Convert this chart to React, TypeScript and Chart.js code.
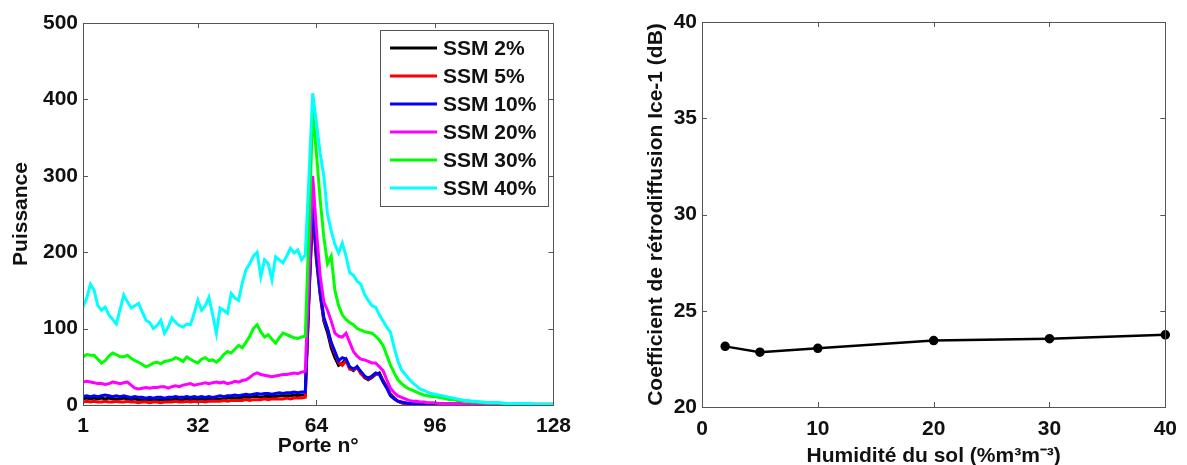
import { useEffect, useRef } from 'react';
import { Chart, registerables } from 'chart.js';

Chart.register(...registerables);

const FONT = "'Liberation Sans', Arial, Helvetica, sans-serif";

// ---------- Left chart data ----------
const gates = Array.from({ length: 128 }, (_, i) => i + 1);
const seriesLabels = ['SSM 2%', 'SSM 5%', 'SSM 10%', 'SSM 20%', 'SSM 30%', 'SSM 40%'];
const seriesColors = ['#000000', '#ff0000', '#0000ff', '#ff00ff', '#00ff00', '#00ffff'];

const ssm2 = [
  8, 9, 8, 9, 8, 9, 8, 9, 8, 8,
  8, 9, 8, 7, 8, 7, 7, 7, 7, 6,
  7, 7, 6, 7, 7, 8, 7, 7, 8, 7,
  8, 7, 8, 7, 8, 7, 8, 8, 8, 9,
  9, 9, 9, 10, 10, 10, 11, 11, 10, 11,
  11, 11, 11, 12, 12, 12, 12, 13, 12, 13,
  13, 140, 255, 190, 145, 110, 95, 75, 62, 52,
  55, 60, 48, 45, 50, 42, 36, 33, 36, 40,
  42, 32, 24, 14, 9, 5, 3, 2, 2, 1,
  1, 1, 1, 1, 1, 1, 1, 1, 1, 1,
  0, 0, 0, 0, 0, 0, 0, 0, 0, 0,
  0, 0, 0, 0, 0, 0, 0, 0, 0, 0,
  0, 0, 0, 0, 0, 0, 0, 0,
];
const ssm5 = [
  4, 5, 4, 5, 4, 4, 5, 4, 4, 5,
  4, 4, 5, 4, 4, 3, 4, 4, 3, 4,
  4, 3, 4, 4, 4, 5, 4, 4, 5, 4,
  5, 4, 5, 4, 5, 5, 5, 5, 6, 5,
  6, 6, 6, 6, 7, 6, 7, 7, 7, 8,
  7, 8, 8, 8, 8, 9, 8, 9, 9, 9,
  10, 145, 260, 195, 148, 112, 100, 80, 68, 56,
  52, 58, 47, 46, 49, 41, 37, 34, 37, 41,
  40, 31, 23, 13, 8, 5, 3, 2, 2, 1,
  1, 1, 1, 1, 1, 1, 1, 1, 1, 1,
  0, 0, 0, 0, 0, 0, 0, 0, 0, 0,
  0, 0, 0, 0, 0, 0, 0, 0, 0, 0,
  0, 0, 0, 0, 0, 0, 0, 0,
];
const ssm10 = [
  11, 12, 11, 12, 11, 12, 13, 12, 11, 12,
  11, 12, 11, 10, 11, 10, 10, 9, 10, 9,
  10, 10, 9, 10, 10, 11, 10, 10, 11, 10,
  11, 10, 11, 10, 11, 10, 11, 12, 11, 12,
  12, 13, 12, 13, 14, 13, 14, 15, 14, 15,
  15, 14, 15, 16, 15, 16, 16, 17, 16, 17,
  17, 150, 270, 200, 150, 115, 100, 82, 70, 58,
  62, 60, 50, 47, 50, 44, 38, 35, 38, 42,
  40, 30, 22, 12, 8, 5, 4, 3, 2, 2,
  1, 1, 1, 1, 1, 1, 1, 1, 1, 1,
  1, 1, 1, 1, 0, 0, 0, 0, 0, 0,
  0, 0, 0, 0, 0, 0, 0, 0, 0, 0,
  0, 0, 0, 0, 0, 0, 0, 0,
];
const ssm20 = [
  30, 31, 30, 29, 28, 28, 27, 28, 30, 29,
  28, 29, 30, 26, 22, 21, 22, 23, 22, 23,
  23, 24, 24, 22, 24, 25, 24, 26, 27, 28,
  26, 27, 28, 29, 28, 29, 30, 29, 30, 28,
  29, 31, 30, 32, 33, 36, 40, 42, 40, 39,
  38, 37, 38, 39, 40, 40, 41, 42, 41, 43,
  44, 170, 300, 230, 170, 135, 124, 110, 94, 90,
  89, 94, 82, 70, 64, 60, 59, 57, 55, 55,
  50, 45, 33, 22, 16, 12, 10, 8, 6, 5,
  5, 4, 4, 3, 3, 3, 2, 2, 2, 2,
  2, 2, 2, 1, 1, 1, 1, 1, 1, 1,
  1, 1, 1, 1, 1, 1, 1, 1, 1, 1,
  1, 1, 1, 1, 1, 1, 1, 1,
];
const ssm30 = [
  63, 66, 65, 65, 60, 55, 58, 64, 68, 66,
  63, 63, 65, 61, 58, 56, 53, 50, 52, 55,
  56, 54, 57, 58, 59, 62, 60, 57, 63, 60,
  57, 55, 60, 62, 58, 59, 56, 60, 66, 70,
  68, 73, 78, 75, 82, 90, 100, 105, 96, 89,
  92, 86, 81, 88, 94, 92, 90, 88, 87, 89,
  90, 230, 385, 330, 270, 220, 185, 195, 150, 130,
  118, 112, 108, 105, 100, 98, 96, 95, 94, 90,
  85, 78, 65, 52, 42, 33, 28, 24, 21, 19,
  17, 15, 13, 12, 11, 11, 10, 9, 8, 7,
  7, 6, 6, 5, 5, 4, 4, 4, 3, 3,
  3, 3, 3, 2, 2, 2, 2, 2, 2, 2,
  1, 1, 1, 1, 1, 1, 1, 1,
];
const ssm40 = [
  128, 140, 158, 150, 130, 124, 128, 118, 112, 106,
  125, 144, 135, 127, 130, 133, 122, 111, 108, 100,
  104, 111, 94, 102, 114, 108, 104, 102, 106, 105,
  120, 137, 124, 130, 141, 118, 94, 127, 124, 120,
  146, 140, 137, 160, 177, 185, 195, 200, 168, 190,
  185, 164, 194, 190, 186, 195, 205, 199, 203, 190,
  196, 300, 408, 370, 330, 300, 250, 228, 210, 199,
  212, 195, 173, 170, 162, 158, 145, 137, 130, 128,
  118, 110, 102, 95, 75, 58, 46, 40, 34, 29,
  25, 21, 19, 17, 15, 14, 13, 12, 11, 10,
  9, 8, 7, 6, 6, 5, 5, 4, 4, 3,
  3, 3, 3, 3, 2, 2, 2, 2, 2, 2,
  2, 2, 1, 1, 1, 1, 1, 1,
];
const leftSeries = [ssm2, ssm5, ssm10, ssm20, ssm30, ssm40];
const leftXTicks = [1, 32, 64, 96, 128];
const leftYTicks = [0, 100, 200, 300, 400, 500];

// ---------- Right chart data ----------
const humidity = [2, 5, 10, 20, 30, 40];
const backscatter = [23.15, 22.85, 23.05, 23.45, 23.55, 23.75];
const rightXTicks = [0, 10, 20, 30, 40];
const rightYTicks = [20, 25, 30, 35, 40];

const boxPlugin = {
  id: 'matlabBox',
  afterDatasetsDraw(chart: any) {
    const { ctx, chartArea } = chart;
    const { left, right, top, bottom } = chartArea;
    const x = chart.scales.x;
    const y = chart.scales.y;
    ctx.save();
    ctx.strokeStyle = '#555';
    ctx.lineWidth = 1;
    ctx.strokeRect(Math.round(left) + 0.5, Math.round(top) + 0.5, Math.round(right - left), Math.round(bottom - top));
    const tl = 5;
    ctx.beginPath();
    x.ticks.forEach((t: any) => {
      const px = Math.round(x.getPixelForValue(t.value)) + 0.5;
      ctx.moveTo(px, bottom); ctx.lineTo(px, bottom - tl);
      ctx.moveTo(px, top); ctx.lineTo(px, top + tl);
    });
    y.ticks.forEach((t: any) => {
      const py = Math.round(y.getPixelForValue(t.value)) + 0.5;
      ctx.moveTo(left, py); ctx.lineTo(left + tl, py);
      ctx.moveTo(right, py); ctx.lineTo(right - tl, py);
    });
    ctx.stroke();
    ctx.restore();
  },
};

const legendPlugin = {
  id: 'boxLegend',
  afterDraw(chart: any) {
    const o = chart.options.plugins.boxLegend;
    if (!o || !o.enabled) return;
    const ctx = chart.ctx;
    ctx.save();
    ctx.fillStyle = '#ffffff';
    ctx.fillRect(o.x, o.y, o.w, o.h);
    ctx.strokeStyle = '#555';
    ctx.lineWidth = 1;
    ctx.strokeRect(o.x + 0.5, o.y + 0.5, o.w, o.h);
    ctx.font = `bold 21px ${FONT}`;
    ctx.textBaseline = 'middle';
    ctx.textAlign = 'left';
    chart.data.datasets.forEach((ds: any, i: number) => {
      const cy = o.y + o.first + i * o.step;
      ctx.strokeStyle = ds.borderColor;
      ctx.lineWidth = 3;
      ctx.beginPath();
      ctx.moveTo(o.x + 10, cy);
      ctx.lineTo(o.x + 57, cy);
      ctx.stroke();
      ctx.fillStyle = '#111';
      ctx.fillText(ds.label, o.x + 63, cy + 1);
    });
    ctx.restore();
  },
};

const tickFont = { family: FONT, size: 21, weight: 'bold' as const };
const titleFont = { family: FONT, size: 21, weight: 'bold' as const };

function LeftChart() {
  const ref = useRef<HTMLCanvasElement>(null);
  useEffect(() => {
    if (!ref.current) return;
    const chart = new Chart(ref.current, {
      type: 'line',
      data: {
        datasets: leftSeries.map((vals, i) => ({
          label: seriesLabels[i],
          data: vals.map((v, j) => ({ x: gates[j], y: v })),
          borderColor: seriesColors[i],
          backgroundColor: seriesColors[i],
          borderWidth: 3,
          pointRadius: 0,
          tension: 0,
          order: leftSeries.length - i,
        })),
      },
      options: {
        animation: false,
        responsive: false,
        events: [],
        layout: { padding: { left: 5, right: 25, top: 23, bottom: 2 } },
        plugins: {
          legend: { display: false },
          tooltip: { enabled: false },
          boxLegend: { enabled: true, x: 380, y: 30, w: 168, h: 176, first: 18, step: 28 },
        } as any,
        scales: {
          x: {
            type: 'linear',
            min: 1,
            max: 128,
            afterBuildTicks: (s: any) => { s.ticks = leftXTicks.map((v) => ({ value: v })); },
            afterFit: (s: any) => { s.height = 58; },
            grid: { display: false, drawTicks: false },
            border: { display: false },
            ticks: { font: tickFont, color: '#111', padding: 9, maxRotation: 0 },
            title: { display: true, text: 'Porte n°', font: titleFont, color: '#111' },
          },
          y: {
            type: 'linear',
            min: 0,
            max: 500,
            afterBuildTicks: (s: any) => { s.ticks = leftYTicks.map((v) => ({ value: v })); },
            afterFit: (s: any) => { s.width = 78; },
            grid: { display: false, drawTicks: false },
            border: { display: false },
            ticks: { font: tickFont, color: '#111', padding: 5 },
            title: { display: true, text: 'Puissance', font: titleFont, color: '#111' },
          },
        },
      },
      plugins: [boxPlugin, legendPlugin],
    } as any);
    return () => chart.destroy();
  }, []);
  return (
    <canvas
      ref={ref}
      width={580}
      height={465}
      style={{ position: 'absolute', left: 0, top: 0, width: 580, height: 465 }}
    />
  );
}

function RightChart() {
  const ref = useRef<HTMLCanvasElement>(null);
  useEffect(() => {
    if (!ref.current) return;
    const chart = new Chart(ref.current, {
      type: 'line',
      data: {
        datasets: [
          {
            label: 'Ice-1',
            data: humidity.map((h, i) => ({ x: h, y: backscatter[i] })),
            borderColor: '#000',
            backgroundColor: '#000',
            borderWidth: 2.5,
            pointRadius: 3.5,
            pointBackgroundColor: '#000',
            pointBorderColor: '#000',
            tension: 0,
            clip: false,
          },
        ],
      },
      options: {
        animation: false,
        responsive: false,
        events: [],
        layout: { padding: { left: 50, right: 14, top: 22, bottom: 7 } },
        plugins: {
          legend: { display: false },
          tooltip: { enabled: false },
        },
        scales: {
          x: {
            type: 'linear',
            min: 0,
            max: 40,
            afterBuildTicks: (s: any) => { s.ticks = rightXTicks.map((v) => ({ value: v })); },
            afterFit: (s: any) => { s.height = 66; },
            grid: { display: false, drawTicks: false },
            border: { display: false },
            ticks: { font: tickFont, color: '#111', padding: 10, maxRotation: 0 },
            title: { display: true, text: 'Humidité du sol (%m³m⁻³)', font: titleFont, color: '#111' },
          },
          y: {
            type: 'linear',
            min: 20,
            max: 40,
            afterBuildTicks: (s: any) => { s.ticks = rightYTicks.map((v) => ({ value: v })); },
            afterFit: (s: any) => { s.width = 62; },
            grid: { display: false, drawTicks: false },
            border: { display: false },
            ticks: { font: tickFont, color: '#111', padding: 5 },
            title: {
              display: true,
              text: 'Coefficient de rétrodiffusion Ice-1 (dB)',
              font: titleFont,
              color: '#111',
            },
          },
        },
      },
      plugins: [boxPlugin],
    } as any);
    return () => chart.destroy();
  }, []);
  return (
    <canvas
      ref={ref}
      width={597}
      height={480}
      style={{ position: 'absolute', left: 590, top: 0, width: 597, height: 480 }}
    />
  );
}

export default function App() {
  return (
    <div
      style={{
        position: 'fixed',
        left: 0,
        top: 0,
        width: 1187,
        height: 465,
        overflow: 'hidden',
        background: '#ffffff',
      }}
    >
      <LeftChart />
      <RightChart />
    </div>
  );
}
